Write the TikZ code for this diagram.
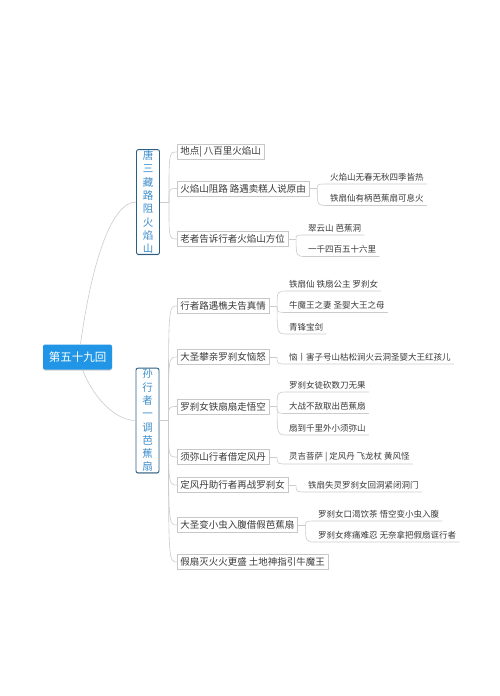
\documentclass[tikz,border=0pt]{standalone}
\usepackage{fontspec}
\setmainfont{Noto Sans CJK SC}
\usetikzlibrary{shadows,calc}
\definecolor{rootblue}{HTML}{2196E6}
\definecolor{brborder}{HTML}{2B5E85}
\definecolor{brtext}{HTML}{3C8DCB}
\definecolor{boxgray}{HTML}{C8C8C8}
\definecolor{linegray}{HTML}{CCCCCC}
\definecolor{txtdark}{HTML}{3A3A3A}
\newcommand\Lf[4]{%
  \node[leaf] (#1) at (#2,#3) {#4};
  \coordinate (#1u) at ($(#1.west)+(0,7)$);
  \coordinate (#1e) at ($(#1.east)+(2,7)$);}
\newcommand\Lk[2]{\draw[conn] (#1) .. controls (#1 |- #2u) .. (#2u) -- (#2e);}
\newcommand\Mk[2]{\draw[conn] (#1) .. controls (#1 |- #2.west) .. (#2.west);}
\begin{document}
\begin{tikzpicture}[x=1pt,y=-1pt,
  rootbox/.style={fill=rootblue, text=white, rounded corners=2pt, minimum width=69pt,
    minimum height=25pt, inner sep=0pt, font=\fontsize{11.5}{12}\selectfont,
    drop shadow={shadow xshift=0pt, shadow yshift=-1pt, opacity=0.35}},
  brbox/.style={draw=brborder, line width=0.9pt, fill=white, text=brtext, rounded corners=2pt,
    minimum width=23pt, text width=12pt, inner xsep=0pt, inner ysep=1pt, align=center,
    font=\fontsize{10.5}{13.3}\selectfont,
    drop shadow={shadow xshift=0pt, shadow yshift=-1pt, opacity=0.3}},
  midbox/.style={draw=boxgray, line width=0.6pt, fill=white, text=txtdark, anchor=west,
    minimum height=15pt, inner xsep=3pt, inner ysep=0pt, font=\fontsize{9.5}{10}\selectfont},
  leaf/.style={anchor=west, inner xsep=1pt, inner ysep=0pt, text=txtdark,
    font=\fontsize{8.5}{9}\selectfont},
  conn/.style={draw=linegray, line width=0.6pt}]
\path[use as bounding box, fill=white] (0,0) rectangle (500,696);

% root and branches
\node[rootbox] (root) at (77.5,357) {第五十九回};
\node[brbox] (b1) at (148,202) {唐\\三\\藏\\路\\阻\\火\\焰\\山};
\node[brbox] (b2) at (147.5,420.5) {孙\\行\\者\\一\\调\\芭\\蕉\\扇};

\draw[conn] ([xshift=3pt]root.north) .. controls (92,260) and (112,202) .. (b1.west);
\draw[conn] ([xshift=5pt]root.south) .. controls (93,397) and (115,420.5) .. (b2.west);

% branch 1 mid nodes
\node[midbox] (m11) at (177,152) {地点|\ 八百里火焰山};
\node[midbox] (m12) at (177,188.5) {火焰山阻路 路遇卖糕人说原由};
\node[midbox] (m13) at (177,239) {老者告诉行者火焰山方位};
\draw[conn] (b1.east) -- ++(9,0) coordinate (jb1);
\Mk{jb1}{m11}\Mk{jb1}{m12}\Mk{jb1}{m13}

% branch 2 mid nodes
\node[midbox] (m21) at (177,306) {行者路遇樵夫告真情};
\node[midbox] (m22) at (177,357) {大圣攀亲罗刹女恼怒};
\node[midbox] (m23) at (177,406.5) {罗刹女铁扇扇走悟空};
\node[midbox] (m24) at (177,457) {须弥山行者借定风丹};
\node[midbox] (m25) at (177,485) {定风丹助行者再战罗刹女};
\node[midbox] (m26) at (177,525) {大圣变小虫入腹借假芭蕉扇};
\node[midbox] (m27) at (177,562) {假扇灭火火更盛 土地神指引牛魔王};
\draw[conn] (b2.east) -- ++(9,0) coordinate (jb2);
\Mk{jb2}{m21}\Mk{jb2}{m22}\Mk{jb2}{m23}\Mk{jb2}{m24}\Mk{jb2}{m25}\Mk{jb2}{m26}\Mk{jb2}{m27}

% leaves of m12
\Lf{l121}{329}{177}{火焰山无春无秋四季皆热}
\Lf{l122}{329}{198.5}{铁扇仙有柄芭蕉扇可息火}
\draw[conn] (m12.east) -- ++(8,0) coordinate (j12);
\Lk{j12}{l121}\Lk{j12}{l122}

% leaves of m13
\Lf{l131}{307}{228}{翠云山 芭蕉洞}
\Lf{l132}{307}{249.5}{一千四百五十六里}
\draw[conn] (m13.east) -- ++(8,0) coordinate (j13);
\Lk{j13}{l131}\Lk{j13}{l132}

% leaves of m21
\Lf{l211}{288}{284}{铁扇仙 铁扇公主 罗刹女}
\Lf{l212}{288}{305.5}{牛魔王之妻 圣婴大王之母}
\Lf{l213}{288}{327}{青锋宝剑}
\draw[conn] (m21.east) -- ++(8,0) coordinate (j21);
\Lk{j21}{l211}\Lk{j21}{l212}\Lk{j21}{l213}

% leaf of m22
\Lf{l221}{288}{357}{恼丨害子号山枯松涧火云洞圣婴大王红孩儿}
\draw[conn] (m22.east) -- ++(8,0) coordinate (j22);
\Lk{j22}{l221}

% leaves of m23
\Lf{l231}{288}{385}{罗刹女徒砍数刀无果}
\Lf{l232}{288}{406.5}{大战不敌取出芭蕉扇}
\Lf{l233}{288}{428}{扇到千里外小须弥山}
\draw[conn] (m23.east) -- ++(8,0) coordinate (j23);
\Lk{j23}{l231}\Lk{j23}{l232}\Lk{j23}{l233}

% leaf of m24
\Lf{l241}{288}{457}{灵吉菩萨 | 定风丹 飞龙杖 黄风怪}
\draw[conn] (m24.east) -- ++(8,0) coordinate (j24);
\Lk{j24}{l241}

% leaf of m25
\Lf{l251}{307}{485}{铁扇失灵罗刹女回洞紧闭洞门}
\draw[conn] (m25.east) -- ++(8,0) coordinate (j25);
\Lk{j25}{l251}

% leaves of m26
\Lf{l261}{317}{514}{罗刹女口渴饮茶 悟空变小虫入腹}
\Lf{l262}{317}{535}{罗刹女疼痛难忍 无奈拿把假扇诓行者}
\draw[conn] (m26.east) -- ++(8,0) coordinate (j26);
\Lk{j26}{l261}\Lk{j26}{l262}
\end{tikzpicture}
\end{document}
